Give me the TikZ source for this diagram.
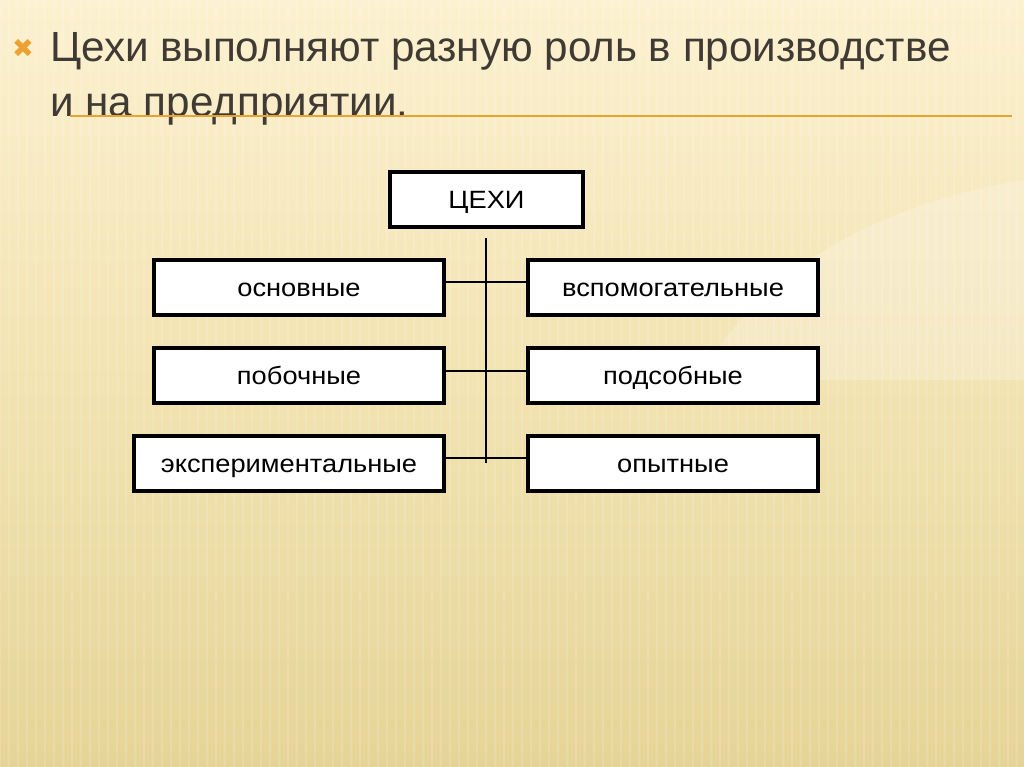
\documentclass[tikz,border=0pt]{standalone}
\usepackage{fontspec}
\setmainfont{Liberation Sans}
\newfontfamily\boxfont[FakeStretch=1.09]{Liberation Sans}
\newfontfamily\symfont{DejaVu Sans}
\definecolor{bgtop}{HTML}{FCF1D0}
\definecolor{bgmid}{HTML}{F2E3B2}
\definecolor{bgbot}{HTML}{E6D497}
\definecolor{titlecol}{HTML}{403A34}
\definecolor{accent}{HTML}{E9A233}
\tikzset{
  box/.style={draw=black, line width=4pt, fill=white, inner sep=0pt,
    minimum height=55pt, text height=18pt, text depth=0pt,
    font=\boxfont\fontsize{25}{29}\selectfont, text=black},
  link/.style={draw=black, line width=2pt},
  titletext/.style={anchor=base west, text=titlecol, inner sep=0pt,
    font=\fontsize{42.2}{55}\selectfont},
}
\begin{document}
\begin{tikzpicture}[x=1pt,y=-1pt]
\useasboundingbox (0,0) rectangle (1024,767);
% background
\shade[top color=bgtop, bottom color=bgbot, middle color=bgmid] (0,0) rectangle (1024,767);
\fill[white, opacity=0.22] (1024,180) .. controls (900,200) and (760,260) .. (700,380) -- (1024,380) -- cycle;
\foreach \i in {0,9,...,1024} {
  \draw[white, opacity=0.13, line width=2.5pt] (\i,0) -- (\i,767);
}
% title
\node[anchor=base west, text=accent, inner sep=0pt] (bul) at (12,58) {\symfont\fontsize{26}{30}\selectfont ✖};
\node[titletext] (title1) at (50,62) {Цехи выполняют разную роль в производстве};
\node[titletext] (title2) at (50,117) {и на предприятии.};
\coordinate (ulA) at (70,116);
\coordinate (ulB) at (1012,116);
\draw[accent, line width=2pt] (ulA) -- (ulB);
% boxes
\node[box, minimum width=193pt] (root) at (486.5,199.5) {ЦЕХИ};
\node[box, minimum width=290pt] (osn) at (299,287) {основные};
\node[box, minimum width=290pt] (vsp) at (673,287) {вспомогательные};
\node[box, minimum width=290pt, minimum height=55.5pt] (pob) at (299,375.5) {побочные};
\node[box, minimum width=290pt, minimum height=55.5pt] (pod) at (673,375.5) {подсобные};
\node[box, minimum width=310pt] (exp) at (289,463) {экспериментальные};
\node[box, minimum width=290pt] (opy) at (673,463) {опытные};
% connectors
\coordinate (vtop) at (486,238);
\coordinate (vbot) at (486,463);
\draw[link] (vtop) -- (vbot);
\draw[link] ([yshift=5pt]osn.east) -- ([yshift=5pt]vsp.west);
\draw[link] ([yshift=5pt]pob.east) -- ([yshift=5pt]pod.west);
\draw[link] ([yshift=5pt]exp.east) -- ([yshift=5pt]opy.west);
\end{tikzpicture}
\end{document}
